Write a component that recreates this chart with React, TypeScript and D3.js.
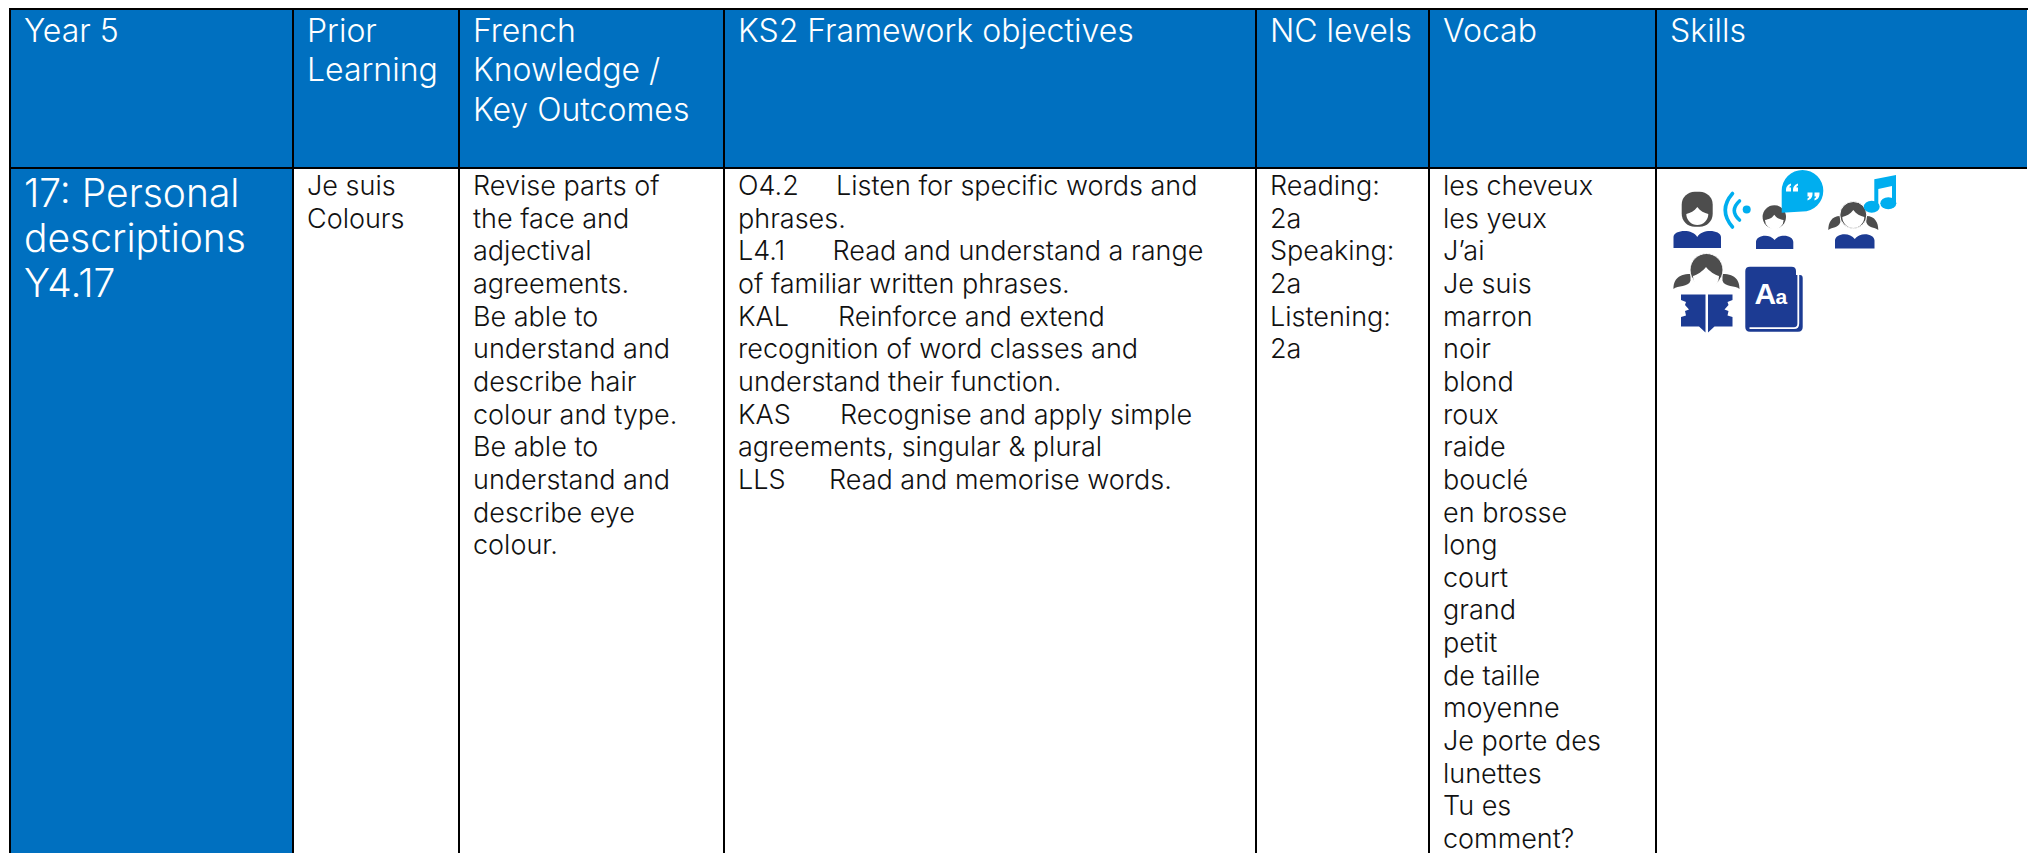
import * as d3 from "d3";

const headers = [
  ["Year 5"],
  ["Prior", "Learning"],
  ["French", "Knowledge /", "Key Outcomes"],
  ["KS2 Framework objectives"],
  ["NC levels"],
  ["Vocab"],
  ["Skills"],
];
const topic = ["17: Personal", "descriptions", "Y4.17"];
const priorLearning = ["Je suis", "Colours"];
const outcomes = [
  "Revise parts of",
  "the face and",
  "adjectival",
  "agreements.",
  "Be able to",
  "understand and",
  "describe hair",
  "colour and type.",
  "Be able to",
  "understand and",
  "describe eye",
  "colour.",
];
const objectives = [
  ["O4.2", "Listen for specific words and"],
  ["", "phrases."],
  ["L4.1", "Read and understand a range"],
  ["", "of familiar written phrases."],
  ["KAL", "Reinforce and extend"],
  ["", "recognition of word classes and"],
  ["", "understand their function."],
  ["KAS", "Recognise and apply simple"],
  ["", "agreements, singular & plural"],
  ["LLS", "Read and memorise words."],
];
const objectiveIndent: Record<string, number> = { "O4.2": 98, "L4.1": 94.5, KAL: 100, KAS: 102, LLS: 91 };
const levels = ["Reading:", "2a", "Speaking:", "2a", "Listening:", "2a"];
const vocab = [
  "les cheveux",
  "les yeux",
  "J’ai",
  "Je suis",
  "marron",
  "noir",
  "blond",
  "roux",
  "raide",
  "bouclé",
  "en brosse",
  "long",
  "court",
  "grand",
  "petit",
  "de taille",
  "moyenne",
  "Je porte des",
  "lunettes",
  "Tu es",
  "comment?",
];

const W = 2028;
const H = 853;
const FONT = "Inter, Lato, sans-serif";
const BLUE = "#0070c0";
const NAVY = "#1c3b93";
const CYAN = "#00aeef";
const GREY = "#4d4d4d";
const columns = d3.range(7);
const colEdge = d3.scaleOrdinal<number, number>().domain(d3.range(8)).range([10, 293, 459, 724, 1256, 1429, 1656, 2027]);
const textX = (c: number) => colEdge(c) + 14;
const headY = d3.scaleLinear().domain([0, 1]).range([41.7, 81.2]);
const bodyY = d3.scaleLinear().domain([0, 1]).range([195, 227.65]);
const topicY = d3.scaleLinear().domain([0, 1]).range([207, 252]);

const Lines = ({ lines, x, y, size, fill = "#111", weight = 300 }: any) => (
  <text fontFamily={FONT} fontSize={size} fontWeight={weight} fill={fill}>
    {lines.map((l: string, i: number) => (
      <tspan key={i} x={x} y={y(i)}>
        {l}
      </tspan>
    ))}
  </text>
);

// white face with a parting dipping down from the top
const Face = ({ cx, cy, r }: any) => (
  <path
    d={`M${cx} ${cy - r + 3} C${cx - 3} ${cy - r + 7} ${cx - r + 4} ${cy - 2} ${cx - r} ${cy - 1} A${r} ${r} 0 1 0 ${cx + r} ${cy - 1} C${cx + r - 4} ${cy - 2} ${cx + 3} ${cy - r + 7} ${cx} ${cy - r + 3} Z`}
    fill="#fff"
  />
);

// shoulders: two humps meeting in a notch
const Shoulders = ({ x0, x1, top, notch, bottom }: any) => {
  const mid = (x0 + x1) / 2;
  return (
    <path
      d={`M${x0} ${bottom} V${top + 7} C${x0} ${top} ${mid - 5} ${top - 2} ${mid} ${notch} C${mid + 5} ${top - 2} ${x1} ${top} ${x1} ${top + 7} V${bottom} Z`}
      fill={NAVY}
    />
  );
};

const Quote = ({ x, y, flip }: any) => (
  <g transform={`translate(${x},${y}) scale(${flip ? -1 : 1})`} fill="#fff">
    <path d="M-8 2 C-8 -2 -6 -4 -3 -5 L-3 -3 C-4 -2.5 -4.5 -2 -4.6 -1 L-3 -1 V3 H-8 Z" />
    <path d="M-1 2 C-1 -2 1 -4 4 -5 L4 -3 C3 -2.5 2.5 -2 2.4 -1 L4 -1 V3 H-1 Z" />
  </g>
);

// leaf shaped bunches either side of the head
const Pigtails = ({ cx, y, inner, outer, dy }: any) => (
  <g fill={GREY}>
    <path d={`M${cx - inner} ${y} C${cx - outer + 3} ${y} ${cx - outer} ${y + dy * 0.5} ${cx - outer} ${y + dy} C${cx - outer + 4} ${y + dy * 0.75} ${cx - inner - 2} ${y + dy * 0.9} ${cx - inner} ${y + dy * 0.45} Z`} />
    <path d={`M${cx + inner} ${y} C${cx + outer - 3} ${y} ${cx + outer} ${y + dy * 0.5} ${cx + outer} ${y + dy} C${cx + outer - 4} ${y + dy * 0.75} ${cx + inner + 2} ${y + dy * 0.9} ${cx + inner} ${y + dy * 0.45} Z`} />
  </g>
);

const SkillIcons = () => (
  <g>
    {/* listening */}
    <rect x={1681.7} y={191.7} width={31} height={35} rx={13} fill={GREY} />
    <Face cx={1697.3} cy={215} r={11} />
    <Shoulders x0={1673.5} x1={1721} top={230} notch={237} bottom={248} />
    <g fill="none" stroke={CYAN} strokeWidth={3.6} strokeLinecap="round">
      <path d="M1732.5 193.5 Q1718 210 1732.5 227" />
      <path d="M1739.5 201 Q1729 210.5 1739.5 220" />
    </g>
    <circle cx={1746.7} cy={209.5} r={4} fill={CYAN} />
    {/* speaking */}
    <circle cx={1774.3} cy={217} r={11.7} fill={GREY} />
    <Face cx={1774.3} cy={221} r={9.3} />
    <Shoulders x0={1756} x1={1793.3} top={235} notch={240} bottom={249} />
    <path d="M1781.7 212.7 V190.7 A20.8 20.8 0 1 1 1802.5 211.5 Z" fill={CYAN} />
    <Quote x={1794} y={188.5} />
    <Quote x={1811.5} y={195.5} flip />
    {/* singing */}
    <Pigtails cx={1853.3} y={216} inner={13} outer={25} dy={14} />
    <circle cx={1853.3} cy={215} r={13.5} fill={GREY} stroke="#fff" strokeWidth={1} />
    <Face cx={1853.3} cy={218} r={11} />
    <Shoulders x0={1835} x1={1874.5} top={233.5} notch={239} bottom={248.5} />
    <g fill={CYAN}>
      <ellipse cx={1871.7} cy={206.7} rx={8} ry={6} />
      <ellipse cx={1888.3} cy={203.3} rx={8} ry={6} />
      <path d="M1874.3 206 V179.3 L1896 175 V203 H1892 V186 L1878.3 189 V206 Z" />
    </g>
    {/* reading */}
    <Pigtails cx={1706.5} y={274} inner={16} outer={33} dy={15} />
    <circle cx={1706.5} cy={270} r={16.5} fill={GREY} stroke="#fff" strokeWidth={1} />
    <Face cx={1706} cy={277} r={13} />
    <path d="M1681 294.5 H1705.5 V332.5 L1699 326.5 H1681 V317 L1686 315.5 L1685 311 L1689 309.5 L1685 305 L1686 302 L1681 300 Z" fill={NAVY} />
    <path d="M1732.5 294.5 H1708 V332.5 L1714.5 326.5 H1732.5 V317 L1727.5 315.5 L1728.5 311 L1724.5 309.5 L1728.5 305 L1727.5 302 L1732.5 300 Z" fill={NAVY} />
    {/* dictionary */}
    <path d="M1750 266.7 H1791.5 Q1796 266.7 1796 271 V275 H1800 Q1802.7 275 1802.7 278 V327 Q1802.7 331.7 1798 331.7 H1750 Q1745.3 331.7 1745.3 327 V271 Q1745.3 266.7 1750 266.7 Z" fill={NAVY} />
    <path d="M1749.5 328.2 H1794 Q1798.3 328.2 1798.3 323.5 V275" fill="none" stroke="#fff" strokeWidth={1.8} />
    <text x={1754.5} y={303.5} fontFamily="'Liberation Sans', sans-serif" fontWeight={700} fontSize={30} fill="#fff">
      A
    </text>
    <text x={1775.5} y={303.5} fontFamily="'Liberation Sans', sans-serif" fontWeight={700} fontSize={21} fill="#fff">
      a
    </text>
  </g>
);

export default function App() {
  return (
    <svg width={W} height={H} style={{ position: "absolute", left: 0, top: 0 }}>
      <rect width={W} height={H} fill="#fff" />
      <rect x={10} y={9} width={W - 11} height={159} fill={BLUE} />
      <rect x={10} y={168} width={283} height={H} fill={BLUE} />
      {columns.map((c) => (
        <Lines key={c} lines={headers[c]} x={textX(c)} y={headY} size={32} fill="#fff" />
      ))}
      <Lines lines={topic} x={textX(0)} y={topicY} size={39} fill="#fff" />
      <Lines lines={priorLearning} x={textX(1)} y={bodyY} size={27} />
      <Lines lines={outcomes} x={textX(2)} y={bodyY} size={27} />
      <text fontFamily={FONT} fontSize={27} fontWeight={300} fill="#111">
        {objectives.map(([code, rest], i) => (
          <tspan key={i}>
            {code && (
              <tspan x={textX(3)} y={bodyY(i)}>
                {code}
              </tspan>
            )}
            <tspan x={textX(3) + (objectiveIndent[code] ?? 0)} y={bodyY(i)}>
              {rest}
            </tspan>
          </tspan>
        ))}
      </text>
      <Lines lines={levels} x={textX(4)} y={bodyY} size={27} />
      <Lines lines={vocab} x={textX(5)} y={bodyY} size={27} />
      <SkillIcons />
      <g stroke="#000" strokeWidth={2}>
        <line x1={9} x2={W} y1={9} y2={9} />
        <line x1={9} x2={W - 1} y1={168} y2={168} />
        {d3.range(7).map((c) => (
          <line key={c} x1={colEdge(c)} x2={colEdge(c)} y1={8} y2={H} />
        ))}
      </g>
    </svg>
  );
}
